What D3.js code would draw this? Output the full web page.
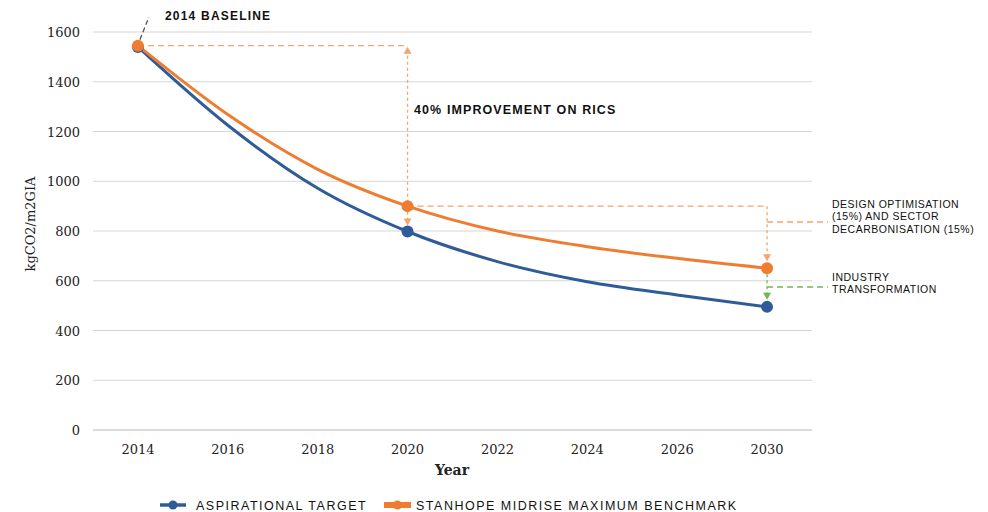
<!DOCTYPE html>
<html>
<head>
<meta charset="utf-8">
<script src="https://cdn.jsdelivr.net/npm/d3@7"></script>
<style>
  body { margin: 0; background: #fff; }
  .note { font-family: "Liberation Sans", Arial, sans-serif; fill: #111; }
</style>
</head>
<body>
<div id="chart"></div>
<script>
// categories on the x axis (evenly spaced, as in the source)
var years = ["2014", "2016", "2018", "2020", "2022", "2024", "2026", "2030"];
// values
var aspirational = [1540, 1225, 972, 798, 677, 596, 543, 495];
var benchmark = [1545, 1268, 1048, 900, 800, 737, 690, 650];
var markedYears = ["2014", "2020", "2030"];
var yTicks = [0, 200, 400, 600, 800, 1000, 1200, 1400, 1600];

var W = 988, H = 512;
var blue = "#2f5b98", orange = "#ee7d31", green = "#74b54f", dashOrange = "#f4a46c";
var serif = "'DejaVu Serif', serif";

var svg = d3.select("#chart").append("svg")
    .attr("width", W)
    .attr("height", H);

var x = d3.scaleBand().domain(years).range([93, 812]).padding(0);
var cx = function(d) { return x(d) + x.bandwidth() / 2; };
var y = d3.scaleLinear().domain([0, 1600]).range([430, 32]);

// gridlines
svg.append("g")
  .selectAll("line")
  .data(yTicks)
  .enter().append("line")
    .attr("x1", 93).attr("x2", 812)
    .attr("y1", function(d) { return y(d); })
    .attr("y2", function(d) { return y(d); })
    .attr("stroke", function(d) { return d === 0 ? "#dcdcdc" : "#d6d6d6"; })
    .attr("stroke-width", function(d) { return d === 0 ? 2 : 1; });

// y axis (labels only)
var yAxis = svg.append("g")
    .attr("transform", "translate(84,0)")
    .call(d3.axisLeft(y).tickValues(yTicks).tickFormat(d3.format("d")).tickSize(0).tickPadding(4));
yAxis.select(".domain").remove();
yAxis.attr("font-family", null).attr("font-size", null);
yAxis.selectAll("text")
    .style("font-family", serif).style("font-size", "13px")
    .attr("fill", "#222").attr("dy", "0.35em");

// x axis (labels only)
var xAxis = svg.append("g")
    .attr("transform", "translate(0,449)")
    .call(d3.axisBottom(x).tickSize(0).tickPadding(0));
xAxis.select(".domain").remove();
xAxis.attr("font-family", null).attr("font-size", null);
xAxis.selectAll("text")
    .style("font-family", serif).style("font-size", "13px")
    .attr("fill", "#222").attr("dy", "0.35em");

// axis titles
svg.append("text")
    .attr("x", 452).attr("y", 475)
    .attr("text-anchor", "middle")
    .style("font-family", serif)
    .style("font-size", "14px")
    .style("font-weight", "bold")
    .attr("fill", "#222")
    .text("Year");

svg.append("text")
    .attr("transform", "translate(35,224) rotate(-90)")
    .attr("text-anchor", "middle")
    .style("font-family", serif)
    .style("font-size", "13px")
    .attr("fill", "#222")
    .text("kgCO2/m2GIA");

function dashed(x1, y1, x2, y2, color, dash) {
  svg.append("line")
    .attr("x1", x1).attr("y1", y1).attr("x2", x2).attr("y2", y2)
    .attr("stroke", color).attr("stroke-width", 1.3)
    .attr("stroke-dasharray", dash);
}
function arrow(px, tipY, dir, color) {
  var b = tipY - dir * 7;
  svg.append("path")
    .attr("d", "M" + (px - 4) + "," + b + "L" + (px + 4) + "," + b + "L" + px + "," + tipY + "Z")
    .attr("fill", color);
}

var i2014 = years.indexOf("2014"), i2020 = years.indexOf("2020"), i2030 = years.indexOf("2030");
var x14 = cx("2014"), x20 = cx("2020"), x30 = cx("2030");
var yBase = y(benchmark[i2014]);

// annotation connectors
dashed(x14, yBase, x20, yBase, dashOrange, "6,4");
dashed(x20, yBase + 4, x20, y(aspirational[i2020]) - 12, dashOrange, "3,3");
arrow(x20, yBase + 1, -1, dashOrange);
arrow(x20, y(aspirational[i2020]) - 6, 1, dashOrange);

dashed(x20, y(benchmark[i2020]), x30, y(benchmark[i2020]), dashOrange, "6,4");
dashed(x30, y(benchmark[i2020]), x30, y(benchmark[i2030]) - 12, dashOrange, "3,3");
arrow(x30, y(benchmark[i2030]) - 7, 1, dashOrange);
dashed(x30, 222, 828, 222, dashOrange, "6,4");

dashed(x30, y(benchmark[i2030]), x30, y(aspirational[i2030]) - 12, green, "3,3");
arrow(x30, y(aspirational[i2030]) - 7, 1, green);
dashed(x30, 287, 828, 287, green, "6,4");

dashed(x14 + 2, yBase - 6, x14 + 11, 17, "#555", "5,3");

// series lines
var line = d3.line()
    .x(function(d, i) { return cx(years[i]); })
    .y(function(d) { return y(d); })
    .curve(d3.curveMonotoneX);

svg.append("path").datum(aspirational)
    .attr("d", line).attr("fill", "none")
    .attr("stroke", blue).attr("stroke-width", 3);
svg.append("path").datum(benchmark)
    .attr("d", line).attr("fill", "none")
    .attr("stroke", orange).attr("stroke-width", 3);

// markers
function markers(values, color) {
  svg.append("g").selectAll("circle")
    .data(markedYears)
    .enter().append("circle")
      .attr("cx", function(d) { return cx(d); })
      .attr("cy", function(d) { return y(values[years.indexOf(d)]); })
      .attr("r", 6)
      .attr("fill", color);
}
markers(aspirational, blue);
markers(benchmark, orange);

// annotation texts
svg.append("text").attr("class", "note")
    .attr("x", 165).attr("y", 20)
    .style("font-size", "12px").style("font-weight", "bold")
    .style("letter-spacing", "1.2px")
    .text("2014 BASELINE");

svg.append("text").attr("class", "note")
    .attr("x", 414).attr("y", 114)
    .style("font-size", "12.5px").style("font-weight", "bold")
    .style("letter-spacing", "1.1px")
    .text("40% IMPROVEMENT ON RICS");

var sideNotes = [
  {y: 208, lines: ["DESIGN OPTIMISATION", "(15%) AND SECTOR", "DECARBONISATION (15%)"]},
  {y: 281, lines: ["INDUSTRY", "TRANSFORMATION"]}
];
sideNotes.forEach(function(n) {
  var t = svg.append("text").attr("class", "note")
      .attr("x", 832).attr("y", n.y)
      .style("font-size", "10.5px")
      .style("letter-spacing", "0.5px")
      .attr("fill", "#3a3a3a");
  n.lines.forEach(function(l, k) {
    t.append("tspan").attr("x", 832).attr("dy", k === 0 ? 0 : 12.4).text(l);
  });
});

// legend
var legendData = [
  {name: "ASPIRATIONAL TARGET", color: blue, x: 160, w: 26, sw: 3.5},
  {name: "STANHOPE MIDRISE MAXIMUM BENCHMARK", color: orange, x: 384, w: 27, sw: 6}
];
var keys = svg.append("g").selectAll("g")
    .data(legendData)
    .enter().append("g")
    .attr("transform", function(d) { return "translate(" + d.x + ",505)"; });
keys.append("line")
    .attr("x1", 0).attr("x2", function(d) { return d.w; })
    .attr("stroke", function(d) { return d.color; })
    .attr("stroke-width", function(d) { return d.sw; });
keys.append("circle")
    .attr("cx", function(d) { return d.w / 2; })
    .attr("r", 4.5)
    .attr("fill", function(d) { return d.color; });
keys.append("text").attr("class", "note")
    .attr("x", function(d) { return d.w + (d.sw > 4 ? 5 : 10); })
    .attr("y", 5)
    .style("font-size", "12.5px")
    .style("letter-spacing", "1.5px")
    .attr("fill", "#222")
    .text(function(d) { return d.name; });
</script>
</body>
</html>
